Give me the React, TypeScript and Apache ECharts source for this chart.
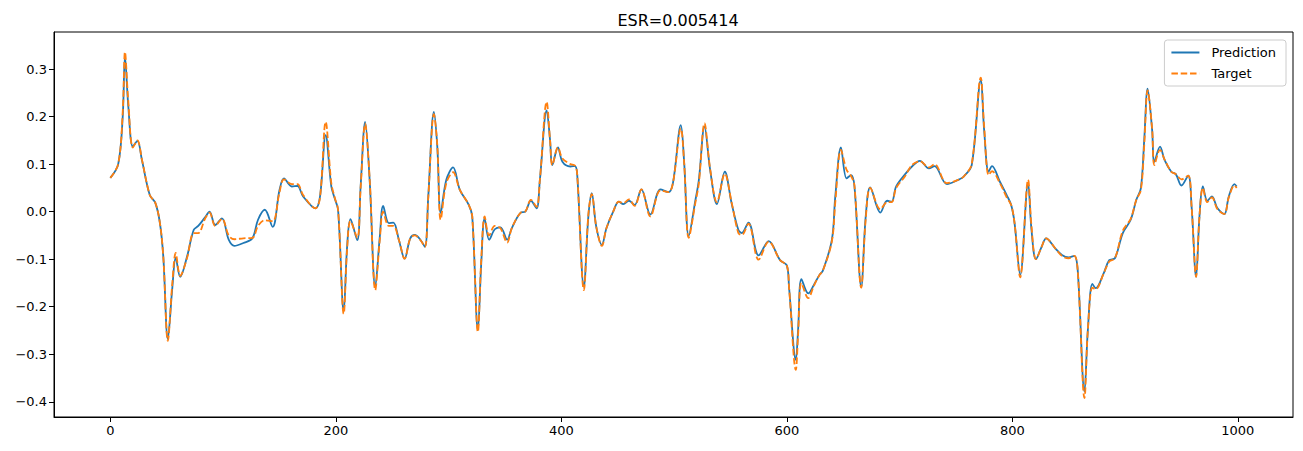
import React, { useEffect, useRef } from "react";
import * as echarts from "echarts";

const titleText = "ESR=0.005414";
const seriesNames = ["Prediction", "Target"];
const xTicks = [0, 200, 400, 600, 800, 1000];
const yTicks = [-0.4, -0.3, -0.2, -0.1, 0.0, 0.1, 0.2, 0.3];

const xs = [
  0, 7, 11, 13, 16, 20, 24, 28, 35, 40, 44, 47, 51, 55, 58, 62, 68, 74, 78, 84, 88, 93, 99, 105, 110, 118, 126, 131, 137, 144,
  150, 154, 161, 166, 171, 182, 186, 191, 196, 199, 202, 207, 210, 213, 219, 222, 226, 230, 235, 239, 242, 247, 251, 256, 261,
  266, 270, 275, 279, 282, 287, 290, 293, 298, 304, 310, 318, 321, 326, 329, 332, 336, 341, 346, 352, 356, 364, 368, 373, 378,
  381, 387, 390, 392, 397, 401, 408, 412, 414, 420, 424, 427, 431, 436, 440, 446, 451, 455, 460, 465, 471, 479, 488, 495, 499,
  506, 509, 513, 519, 522, 527, 532, 538, 545, 551, 557, 560, 566, 575, 584, 594, 600, 602, 608, 610, 613, 619, 624, 629, 632,
  640, 643, 648, 653, 657, 660, 666, 670, 674, 683, 689, 693, 697, 705, 711, 718, 726, 731, 742, 753, 757, 764, 772, 775, 779,
  782, 789, 795, 799, 802, 807, 814, 817, 821, 826, 830, 838, 844, 850, 855, 858, 864, 867, 871, 874, 881, 886, 891, 898, 905,
  910, 914, 917, 920, 924, 926, 931, 935, 941, 945, 950, 956, 959, 963, 966, 969, 973, 977, 982, 988, 992, 997, 999,
];

const prediction = [
  0.071, 0.1, 0.2, 0.326, 0.22, 0.137, 0.149, 0.109, 0.035, 0.018, -0.024, -0.095, -0.268, -0.16, -0.097, -0.137, -0.095, -0.038, -0.03, -0.012, 0.0, -0.028, -0.014, -0.059, -0.072, -0.066, -0.056, -0.017, 0.004, -0.032,
  0.045, 0.07, 0.053, 0.054, 0.032, 0.007, 0.032, 0.161, 0.053, 0.028, 0.004, -0.21, -0.074, -0.016, -0.06, 0.053, 0.189, 0.067, -0.158, -0.053, 0.012, -0.024, -0.023, -0.06, -0.099,
  -0.056, -0.049, -0.059, -0.074, 0.032, 0.21, 0.137, -0.003, 0.067, 0.093, 0.046, 0.014, -0.01, -0.249, -0.108, -0.014, -0.059, -0.037, -0.033, -0.059, -0.035, -0.002, 0.0, 0.023, 0.007,
  0.067, 0.213, 0.151, 0.098, 0.135, 0.105, 0.095, 0.096, 0.081, -0.158, -0.01, 0.039, -0.032, -0.07, -0.035, 0.0, 0.021, 0.016, 0.023, 0.014, 0.047, -0.006, 0.047, 0.041, 0.06,
  0.182, 0.102, -0.051, 0.025, 0.067, 0.179, 0.088, 0.016, 0.084, 0.018, -0.038, -0.045, -0.023, -0.092, -0.062, -0.102, -0.113, -0.16, -0.312, -0.249, -0.142, -0.172, -0.154, -0.133, -0.124,
  -0.059, 0.032, 0.135, 0.07, 0.077, 0.053, -0.158, -0.01, 0.051, -0.002, 0.023, 0.021, 0.053, 0.079, 0.095, 0.107, 0.091, 0.096, 0.058, 0.068, 0.074, 0.098, 0.276, 0.172, 0.084,
  0.096, 0.063, 0.035, 0.014, -0.024, -0.133, 0.06, -0.038, -0.1, -0.074, -0.056, -0.077, -0.091, -0.096, -0.093, -0.123, -0.378, -0.249, -0.152, -0.161, -0.13, -0.102, -0.098, -0.045, -0.017,
  0.025, 0.049, 0.151, 0.259, 0.172, 0.105, 0.137, 0.109, 0.084, 0.079, 0.055, 0.076, 0.011, -0.137, -0.01, 0.053, 0.023, 0.032, 0.007, -0.005, 0.032, 0.058, 0.053,
];

const target = [
  0.071, 0.1, 0.21, 0.336, 0.23, 0.135, 0.15, 0.11, 0.035, 0.018, -0.024, -0.095, -0.272, -0.15, -0.087, -0.135, -0.098, -0.045, -0.045, -0.015, -0.002, -0.03, -0.015, -0.05, -0.058, -0.056, -0.055, -0.03, -0.018, -0.02,
  0.04, 0.068, 0.058, 0.058, 0.035, 0.007, 0.03, 0.189, 0.06, 0.03, 0.004, -0.215, -0.08, -0.02, -0.055, 0.05, 0.185, 0.07, -0.165, -0.06, 0.0, -0.03, -0.03, -0.06, -0.099,
  -0.056, -0.05, -0.06, -0.074, 0.03, 0.205, 0.14, -0.017, 0.06, 0.083, 0.046, 0.014, -0.01, -0.253, -0.1, -0.01, -0.05, -0.03, -0.035, -0.065, -0.035, -0.002, 0.0, 0.025, 0.01,
  0.067, 0.231, 0.151, 0.098, 0.135, 0.112, 0.1, 0.097, 0.081, -0.165, -0.005, 0.037, -0.032, -0.072, -0.035, 0.0, 0.021, 0.018, 0.026, 0.012, 0.047, -0.01, 0.045, 0.041, 0.06,
  0.175, 0.1, -0.055, 0.02, 0.06, 0.186, 0.09, 0.02, 0.08, 0.02, -0.045, -0.049, -0.025, -0.101, -0.063, -0.102, -0.113, -0.16, -0.333, -0.26, -0.15, -0.182, -0.156, -0.133, -0.124,
  -0.062, 0.02, 0.13, 0.088, 0.075, 0.055, -0.16, -0.015, 0.05, 0.005, 0.02, 0.02, 0.05, 0.075, 0.098, 0.106, 0.093, 0.1, 0.06, 0.068, 0.074, 0.1, 0.282, 0.18, 0.077,
  0.085, 0.06, 0.03, 0.014, -0.024, -0.138, 0.067, -0.03, -0.1, -0.074, -0.056, -0.077, -0.093, -0.098, -0.093, -0.123, -0.392, -0.249, -0.16, -0.163, -0.13, -0.105, -0.098, -0.04, -0.015,
  0.025, 0.045, 0.14, 0.255, 0.175, 0.098, 0.13, 0.11, 0.084, 0.079, 0.068, 0.076, 0.011, -0.137, -0.01, 0.05, 0.02, 0.03, 0.005, -0.005, 0.03, 0.055, 0.05,
];

const FONT = "DejaVu Sans";

export default function App() {
  const ref = useRef<HTMLDivElement>(null);
  useEffect(() => {
    if (!ref.current) return;
    const chart = echarts.init(ref.current, null, { renderer: "svg" });
    const predData = xs.map((x, i) => [x, prediction[i]]);
    const targData = xs.map((x, i) => [x, target[i]]);
    const fmtY = (v: number) => {
      const s = Math.abs(v).toFixed(1);
      return v < -1e-9 ? "\u2212" + s : s;
    };
    chart.setOption({
      animation: false,
      backgroundColor: "#fff",
      title: {
        text: titleText,
        left: 673,
        top: 7,
        textAlign: "center",
        textStyle: { fontFamily: FONT, fontSize: 16, fontWeight: "normal", color: "#000" },
      },
      legend: {
        orient: "vertical",
        right: 17,
        top: 40,
        data: seriesNames,
        itemWidth: 28,
        itemHeight: 10,
        itemGap: 8,
        padding: [6, 10, 6, 6],
        borderColor: "#cccccc",
        borderWidth: 1,
        borderRadius: 3,
        backgroundColor: "rgba(255,255,255,0.8)",
        itemStyle: { opacity: 0 },
        textStyle: { fontFamily: FONT, fontSize: 13, color: "#000", padding: [0, 0, 0, 7] },
      },
      grid: {
        left: 54,
        right: 10,
        top: 32,
        bottom: 34,
        show: true,
        borderColor: "#000",
        borderWidth: 1,
        backgroundColor: "transparent",
      },
      xAxis: {
        type: "value",
        min: -49.95,
        max: 1048.95,
        splitLine: { show: false },
        axisLine: { show: true, onZero: false, lineStyle: { color: "#000" } },
        axisTick: { show: true, length: 5, lineStyle: { color: "#000" }, customValues: xTicks },
        axisLabel: {
          customValues: xTicks,
          formatter: (v: number) => String(Math.round(v)),
          fontFamily: FONT,
          fontSize: 13,
          color: "#000",
          margin: 7,
          showMinLabel: true,
          showMaxLabel: true,
        },
      },
      yAxis: {
        type: "value",
        min: -0.432,
        max: 0.378,
        splitLine: { show: false },
        axisLine: { show: true, onZero: false, lineStyle: { color: "#000" } },
        axisTick: { show: true, length: 5, lineStyle: { color: "#000" }, customValues: yTicks },
        axisLabel: {
          customValues: yTicks,
          formatter: fmtY,
          fontFamily: FONT,
          fontSize: 13,
          color: "#000",
          margin: 7,
        },
      },
      series: [
        {
          name: seriesNames[0],
          type: "line",
          data: predData,
          symbol: "none",
          smooth: 0.35,
          lineStyle: { color: "#1f77b4", width: 1.8 },
          itemStyle: { color: "#1f77b4" },
          z: 2,
        },
        {
          name: seriesNames[1],
          type: "line",
          data: targData,
          symbol: "none",
          smooth: 0.35,
          lineStyle: { color: "#ff7f0e", width: 1.8, type: [6.5, 2.8] },
          itemStyle: { color: "#ff7f0e" },
          z: 3,
        },
      ],
    });
    return () => chart.dispose();
  }, []);
  return (
    <div
      ref={ref}
      style={{ position: "fixed", left: 0, top: 0, width: 1303, height: 451 }}
    />
  );
}
